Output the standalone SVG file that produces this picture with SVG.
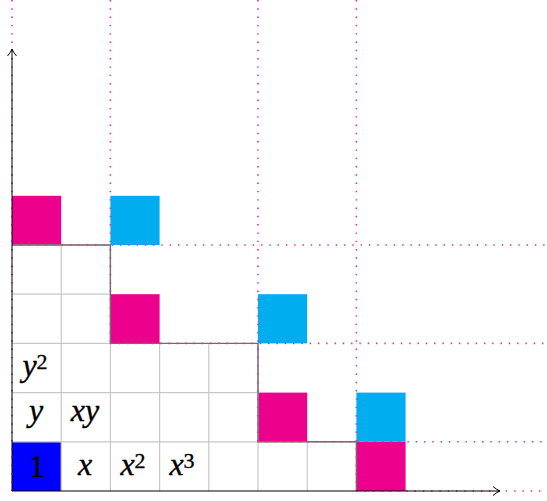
<svg xmlns="http://www.w3.org/2000/svg" width="547" height="501" viewBox="0 0 547 501">
<style>
.grid{stroke:#c8c8c8;stroke-width:1.2;fill:none}
.stair{stroke:#6e6e6e;stroke-width:1.4;fill:none}
.dot{stroke:#ec2a90;stroke-width:1.6;fill:none;stroke-dasharray:1.4 6.9}
.axis{stroke:#000;stroke-width:1;fill:none}
.mag{fill:#ec008c}
.cyan{fill:#00aeef}
.blue{fill:#0000ff}
.lbl{font-family:"Liberation Serif","Times New Roman",serif;font-style:italic;font-size:32px;fill:#000;stroke:#000;stroke-width:0.35;text-anchor:middle}
.up{font-style:normal}
.sup{font-style:normal;font-size:22px}
</style>
<defs>
<marker id="arr" markerWidth="10" markerHeight="12" refX="8" refY="6" orient="auto" markerUnits="userSpaceOnUse">
<path d="M1 1.5 Q5 5 8 6 Q5 7 1 10.5" fill="none" stroke="#000" stroke-width="1"/>
</marker>
</defs>
<g id="cells">
<rect id="c-1" class="blue" x="12" y="441.8" width="49.2" height="49.2"/>
<rect id="m1" class="mag" x="12" y="195.8" width="49.2" height="49.2"/>
<rect id="m2" class="mag" x="110.4" y="294.2" width="49.2" height="49.2"/>
<rect id="m3" class="mag" x="258" y="392.6" width="49.2" height="49.2"/>
<rect id="m4" class="mag" x="356.4" y="441.8" width="49.2" height="49.2"/>
<rect id="k1" class="cyan" x="110.4" y="195.8" width="49.2" height="49.2"/>
<rect id="k2" class="cyan" x="258" y="294.2" width="49.2" height="49.2"/>
<rect id="k3" class="cyan" x="356.4" y="392.6" width="49.2" height="49.2"/>
</g>
<g id="grid" class="grid">
<path d="M12 441.8H356.4M12 392.6H258M12 343.4H110.4M12 294.2H110.4M12 245H110.4"/>
<path d="M61.2 245V491M110.4 245V491M159.6 343.4V491M208.8 343.4V491M258 343.4V491M307.2 441.8V491M356.4 441.8V491"/>
</g>
<g id="connectors">
<path class="stair" d="M12 245H110.4V343.4H258V441.8H356.4V491"/>
<path class="dot" d="M12 0V491M12 245H547M110.4 0V343.4M110.4 343.4H547M258 0V441.8M258 441.8H547M356.4 0V491M356.4 491H547"/>
<path class="axis" d="M12 491H500" marker-end="url(#arr)"/>
<path class="axis" d="M12 491V49" marker-end="url(#arr)"/>
</g>
<g id="labels">
<text class="lbl up" x="37" y="477">1</text>
<text class="lbl" x="85" y="475">x</text>
<text class="lbl" x="133" y="475">x<tspan class="sup" dy="-7">2</tspan></text>
<text class="lbl" x="182" y="475">x<tspan class="sup" dy="-7">3</tspan></text>
<text class="lbl" x="36" y="421">y</text>
<text class="lbl" x="85" y="421">xy</text>
<text class="lbl" x="35" y="376">y<tspan class="sup" dy="-7">2</tspan></text>
</g>
</svg>
